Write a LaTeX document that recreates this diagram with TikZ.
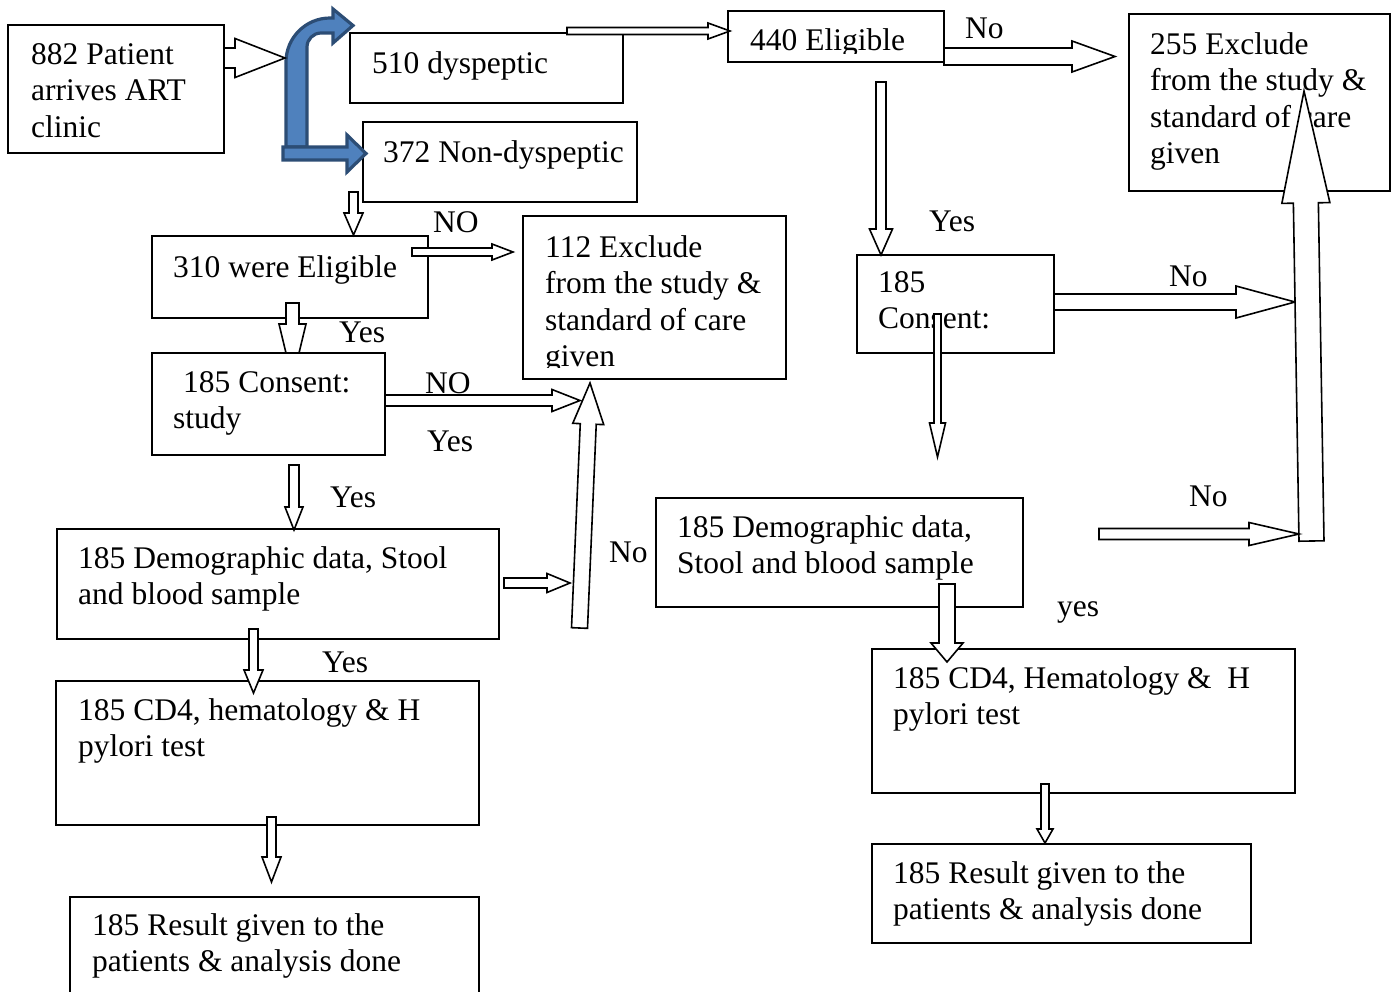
\documentclass[tikz,border=0pt]{standalone}
\usepackage{fontspec}
\setmainfont{Liberation Serif}
\usetikzlibrary{calc,fit}
\definecolor{bfill}{HTML}{4F81BD}
\definecolor{bline}{HTML}{2C4D75}
\newcommand\fs{\fontsize{31.5}{36.5}\selectfont}
% block arrow: name, start x,y, tip x,y, shaft half width, head half width, head length
\newcommand\barr[8]{%
  \coordinate (#1s) at (#2,#3);
  \coordinate (#1e) at (#4,#5);
  \coordinate (#1h) at ($(#1e)!#8pt!(#1s)$);
  \draw[blockarrow] ($(#1s)!#6pt!90:(#1e)$) -- ($(#1h)!#6pt!90:(#1e)$) -- ($(#1h)!#7pt!90:(#1e)$) -- (#1e)
    -- ($(#1h)!#7pt!-90:(#1e)$) -- ($(#1h)!#6pt!-90:(#1e)$) -- ($(#1s)!#6pt!-90:(#1e)$) -- cycle;}
\newcommand\bx[5]{\node[boxstyle, fit={(#2,#3) (#4,#5)}] (#1) {};}
\newcommand\btext[4]{\node[txt] (#1) at (#2,#3) {\parbox[t]{440pt}{\raggedright #4}};}
\tikzset{
  boxstyle/.style={draw, line width=1.8pt, fill=white, inner sep=0pt},
  blockarrow/.style={draw, line width=1.6pt, fill=white, line join=miter},
  bluearrow/.style={draw=bline, line width=3.2pt, fill=bfill, line join=miter},
  txt/.style={inner sep=0pt, anchor=base west, font=\fs},
}
\begin{document}
\begin{tikzpicture}[x=1pt,y=-1pt]
\useasboundingbox (0,0) rectangle (1397,991);
\clip (0,0) rectangle (1397,991);

% boxes and texts
\bx{b1}{8}{25}{224}{153}
\btext{t1}{31}{64}{882 Patient\\arrives ART\\clinic}
\bx{b2}{350}{33}{623}{103}
\btext{t2}{372}{73}{510 dyspeptic}
\bx{b3}{363}{122}{637}{202}
\btext{t3}{383}{162}{372 Non-dyspeptic}
\bx{b4}{728}{11}{944}{62}
\begin{scope}
\clip (728,11) rectangle (944,53);
\btext{t4}{750}{50}{440 Eligible}
\end{scope}
\bx{b5}{1129}{14}{1390}{191}
\btext{t5}{1150}{54}{255 Exclude\\from the study \&\\standard of care\\given}
\bx{b6}{152}{236}{428}{318}
\btext{t6}{173}{277}{310 were Eligible}
\barr{a7}{292.5}{303}{292.5}{380}{6.5}{13.5}{56}
\bx{b7}{523}{216}{786}{379}
\begin{scope}
\clip (523,216) rectangle (786,367);
\btext{t7}{545}{257}{112 Exclude\\from the study \&\\standard of care\\given}
\end{scope}
\bx{b8}{152}{353}{385}{455}
\btext{t8}{173}{392}{\hspace*{10pt}185 Consent:\\study}
\bx{b9}{57}{529}{499}{639}
\btext{t9}{78}{568}{185 Demographic data, Stool\\and blood sample}
\bx{b10}{56}{681}{479}{825}
\btext{t10}{78}{720}{185 CD4, hematology \& H\\pylori test}
\bx{b11}{70}{897}{479}{1005}
\btext{t11}{92}{935}{185 Result given to the\\patients \& analysis done}
\bx{b12}{857}{255}{1054}{353}
\btext{t12}{878}{292}{185\\Consent:}
\bx{b13}{656}{498}{1023}{607}
\btext{t13}{677}{537}{185 Demographic data,\\Stool and blood sample}
\bx{b14}{872}{649}{1295}{793}
\btext{t14}{893}{688}{185 CD4, Hematology \&\ \ H\\pylori test}
\bx{b15}{872}{844}{1251}{943}
\btext{t15}{893}{883}{185 Result given to the\\patients \& analysis done}

% labels
\node[txt] (l1) at (965,38) {No};
\node[txt] (l2) at (433,232) {NO};
\node[txt] (l3) at (339,342) {Yes};
\node[txt] (l4) at (425,393) {NO};
\node[txt] (l5) at (427,451) {Yes};
\node[txt] (l6) at (330,507) {Yes};
\node[txt] (l7) at (322,672) {Yes};
\node[txt] (l8) at (609,562) {No};
\node[txt] (l9) at (929,231) {Yes};
\node[txt] (l10) at (1169,286) {No};
\node[txt] (l11) at (1189,506) {No};
\node[txt] (l12) at (1057,616) {yes};

% blue bent arrow and straight arrow
\draw[bluearrow] (286,147) -- (286,62) .. controls (286,37.7) and (305.7,18) .. (330,18) -- (333,18) -- (333,9)
  -- (353,25.5) -- (333,43) -- (333,33) -- (321,33) .. controls (313.3,33) and (307,39.3) .. (307,47) -- (307,147) -- cycle;
\draw[bluearrow] (283,147) -- (347,147) -- (347,135) -- (366,153.5) -- (347,172) -- (347,160) -- (283,160) -- cycle;

% block arrows
\barr{a1}{224}{58}{285}{58}{10}{19.5}{50}
\barr{a2}{567}{31}{730}{31}{3.5}{8}{22}
\barr{a3}{944}{56.5}{1115}{56.5}{8.5}{15.5}{43}
\barr{a4}{881}{82}{881}{255}{5}{11.5}{26}
\barr{a5}{353.5}{192}{353.5}{235}{4.5}{9.5}{22}
\barr{a6}{412}{252}{513}{252}{4}{8}{21}
\barr{a8}{385}{400.5}{580}{400.5}{5.5}{11}{28}
\barr{a9}{579.5}{628}{590}{383}{8}{15.5}{41}
\barr{a10}{294}{465}{294}{530}{5}{9}{23}
\barr{a11}{504}{583}{570}{583}{5}{9.5}{23}
\barr{a12}{253.5}{629}{253.5}{693}{4.5}{9.5}{23}
\barr{a13}{271.5}{817}{271.5}{882}{4.5}{9.5}{25}
\barr{a14}{937.5}{314}{937.5}{457}{3.5}{8}{34}
\barr{a15}{1054}{302}{1295}{302}{8}{16}{59}
\barr{a16}{1311.5}{541}{1304}{91}{12.5}{24}{112}
\barr{a17}{1099}{534}{1299}{534}{5.5}{11.5}{50}
\barr{a18}{947}{584}{947}{662}{8}{16}{19}
\barr{a19}{1045}{784}{1045}{843}{4}{8}{14}
\end{tikzpicture}
\end{document}
